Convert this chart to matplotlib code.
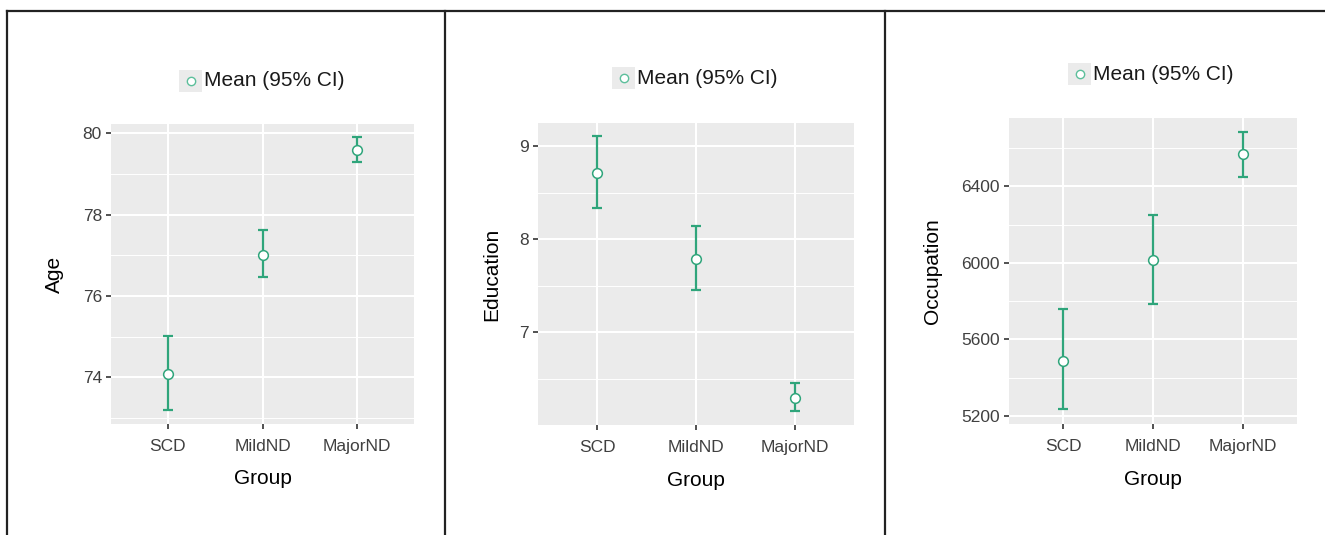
import matplotlib
matplotlib.use("Agg")
from matplotlib import pyplot as plt
from matplotlib.lines import Line2D
from matplotlib.patches import Rectangle

plt.rcParams['font.family'] = ['Liberation Sans', 'DejaVu Sans']

groups = ['SCD', 'MildND', 'MajorND']

age_mean = [74.07, 77.01, 79.59]
age_low = [73.20, 76.46, 79.30]
age_high = [75.02, 77.62, 79.90]

edu_mean = [8.715, 7.79, 6.295]
edu_low = [8.34, 7.45, 6.15]
edu_high = [9.107, 8.14, 6.457]

occ_mean = [5488, 6016, 6570]
occ_low = [5235, 5785, 6452]
occ_high = [5759, 6253, 6685]

GREEN = '#2fa57b'
W, H = 1325, 535

fig = plt.figure(figsize=(13.25, 5.35), dpi=100)


def px_axes(left, right, top, bottom):
    return fig.add_axes([left / W, 1 - bottom / H, (right - left) / W, (bottom - top) / H])


def draw_panel(ax, mean, low, high, ylabel, ylim, majors, minors, ylab_x, leg_x, leg_y):
    x = list(range(1, len(groups) + 1))
    yerr = [[m - l for m, l in zip(mean, low)], [h - m for m, h in zip(mean, high)]]
    ax.set_facecolor('#ebebeb')
    ax.errorbar(x, mean, yerr=yerr, fmt='none', ecolor=GREEN, elinewidth=1.6,
                capsize=3.6, capthick=1.6, zorder=3)
    ax.plot(x, mean, 'o', ms=7, mfc='white', mec=GREEN, mew=1.1, zorder=4)
    ax.set_xlim(0.4, 3.6)
    ax.set_ylim(*ylim)
    ax.set_xticks(x)
    ax.set_xticklabels(groups)
    ax.set_yticks(majors)
    ax.set_yticks(minors, minor=True)
    ax.grid(True, which='major', color='white', lw=1.5, zorder=0)
    ax.grid(True, which='minor', axis='y', color='white', lw=0.7, zorder=0)
    ax.set_axisbelow(True)
    for s in ax.spines.values():
        s.set_visible(False)
    ax.tick_params(which='major', length=3.5, width=1.2, color='#333333',
                   labelsize=12.5, labelcolor='#404040', pad=3)
    ax.tick_params(axis='x', pad=7)
    ax.tick_params(which='minor', length=0)
    ax.set_xlabel('Group', fontsize=15)
    ax.set_ylabel(ylabel, fontsize=15)
    ax.xaxis.set_label_coords(0.5, -0.183)
    ax.xaxis.label.set_va('center')
    ax.yaxis.set_label_coords(ylab_x, 0.5)
    ax.yaxis.label.set_va('center')

    # legend drawn by hand: grey key with a hollow circle and the text
    fig.add_artist(Rectangle((leg_x / W, 1 - (leg_y + 11) / H), 23 / W, 22 / H,
                             transform=fig.transFigure, facecolor='#ebebeb',
                             edgecolor='none'))
    fig.add_artist(Line2D([(leg_x + 11.5) / W], [1 - leg_y / H], marker='o', ms=6,
                          mfc='white', mec='#5cbf9b', mew=1.0, ls='none',
                          transform=fig.transFigure))
    fig.text((leg_x + 25) / W, 1 - leg_y / H, 'Mean (95% CI)', fontsize=15,
             va='center', ha='left', color='#1a1a1a')


ax1 = px_axes(111, 414, 124, 424)
draw_panel(ax1, age_mean, age_low, age_high, 'Age', (72.85, 80.23),
           [74, 76, 78, 80], [73, 75, 77, 79], -0.185, 179, 81)

ax2 = px_axes(538, 854, 123, 425)
draw_panel(ax2, edu_mean, edu_low, edu_high, 'Education', (6.0, 9.25),
           [7, 8, 9], [6.5, 7.5, 8.5], -0.145, 612, 78)

ax3 = px_axes(1009, 1297, 118, 424)
draw_panel(ax3, occ_mean, occ_low, occ_high, 'Occupation', (5158, 6758),
           [5200, 5600, 6000, 6400], [5400, 5800, 6200, 6600], -0.265, 1068, 74)

# panel frames
frame = dict(color='#222222', lw=1.6, transform=fig.transFigure)
fig.add_artist(Line2D([7.5 / W, 1], [1 - 11 / H, 1 - 11 / H], **frame))
for xp in [7.5, 445, 885]:
    fig.add_artist(Line2D([xp / W, xp / W], [0, 1 - 11 / H], **frame))

fig.savefig('out.png', dpi=100, facecolor='white')
